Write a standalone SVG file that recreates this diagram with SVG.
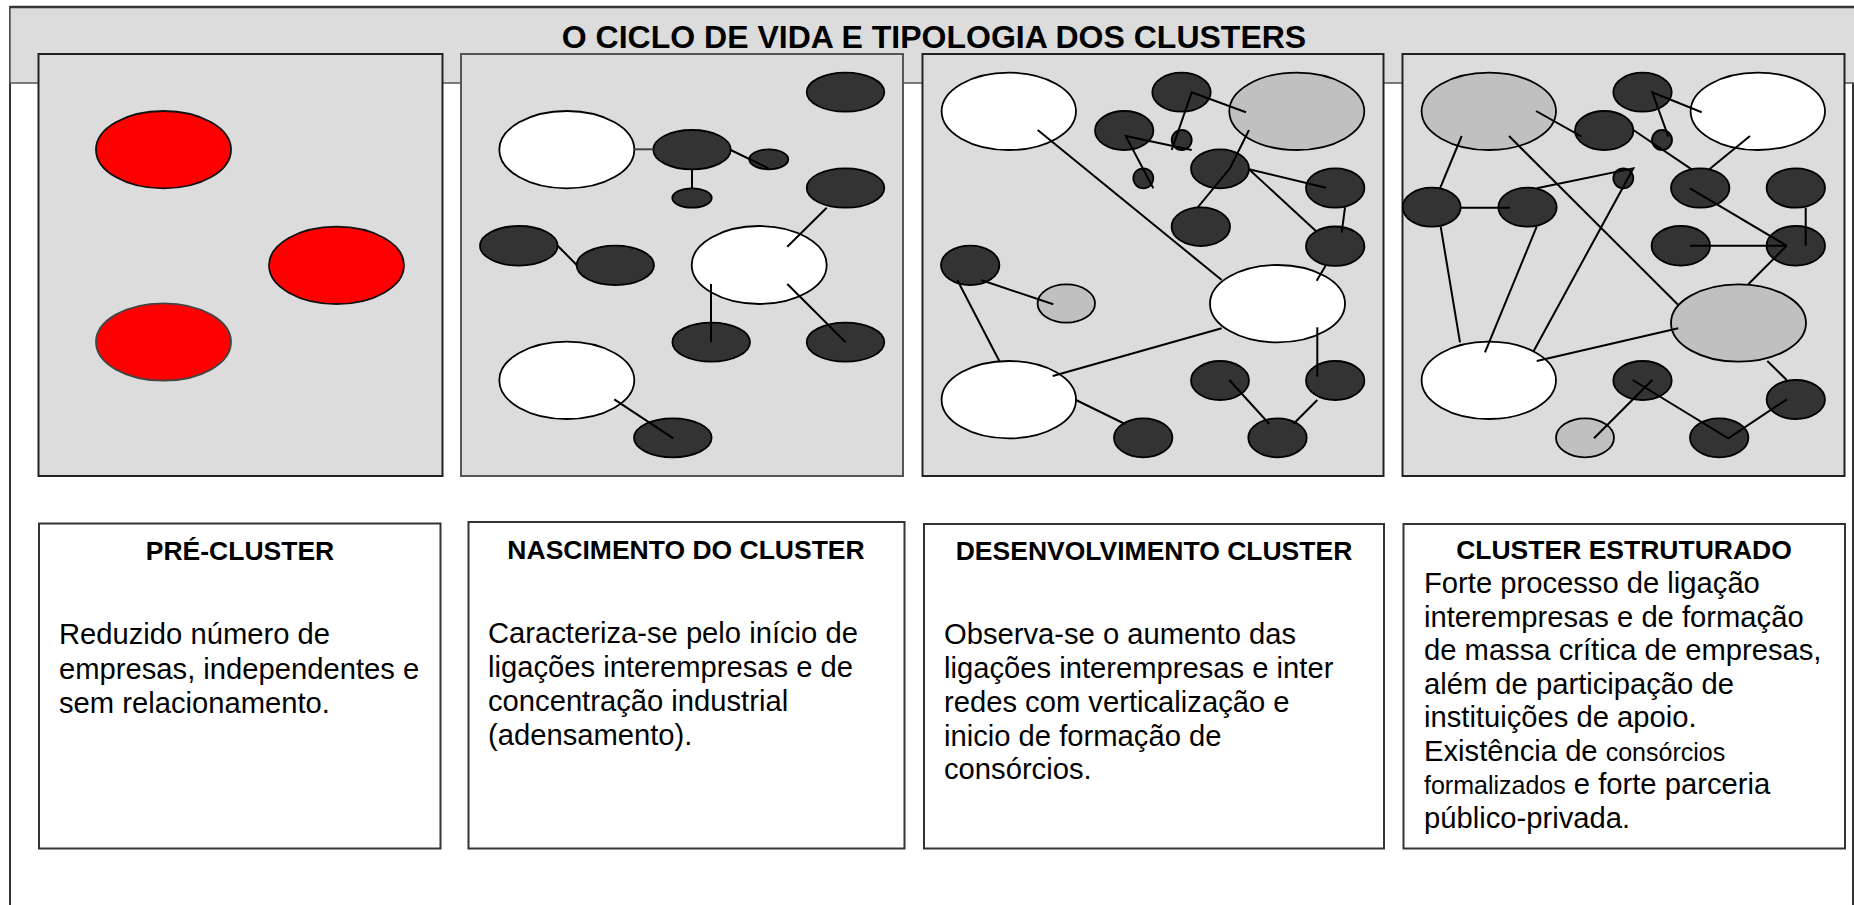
<svg xmlns="http://www.w3.org/2000/svg" width="1854" height="905" viewBox="0 0 1854 905">
<style>
.frame{fill:#ffffff;stroke:#333333;stroke-width:2}
.header{fill:#dcdcdc;stroke:#555555;stroke-width:1.5}
.title{font-family:"Liberation Sans",Arial,sans-serif;font-weight:bold;font-size:32px;fill:#000}
.panel{fill:#dcdcdc;stroke:#222222;stroke-width:2}
.panel2{fill:#dcdcdc;stroke:#555555;stroke-width:2}
.rd{fill:#ff0000;stroke:#111;stroke-width:1.8}
.dk{fill:#333333;stroke:#000;stroke-width:1.8}
.wh{fill:#ffffff;stroke:#000;stroke-width:1.8}
.gr{fill:#c0c0c0;stroke:#000;stroke-width:1.8}
.ln{fill:none;stroke:#000;stroke-width:2}
.box{fill:#ffffff;stroke:#333333;stroke-width:2}
.hd{font-family:"Liberation Sans",Arial,sans-serif;font-weight:bold;font-size:26.5px;fill:#000;text-anchor:middle}
.bd{font-family:"Liberation Sans",Arial,sans-serif;font-size:29.2px;fill:#000}
.sm{font-size:25px}
</style>
<rect class="frame" x="10" y="7" width="1843" height="1000"/>
<rect class="header" x="10" y="7" width="1846" height="76"/>
<line x1="10" y1="7" x2="1854" y2="7" stroke="#333" stroke-width="2.5"/>
<text class="title" x="934" y="48" text-anchor="middle">O CICLO DE VIDA E TIPOLOGIA DOS CLUSTERS</text>

<!-- Panel 1 -->
<g id="panel1">
<rect class="panel" x="38.5" y="54" width="404" height="422"/>
<g id="p1n1"><ellipse class="rd" cx="163.5" cy="149.7" rx="67.5" ry="38.7"/></g>
<g id="p1n2"><ellipse class="rd" cx="336.5" cy="265.3" rx="67.5" ry="38.7"/></g>
<g id="p1n3"><ellipse class="rd" cx="163.5" cy="342" rx="67.5" ry="38.7" style="stroke:#444"/></g>
</g>

<!-- Panel 2 -->
<g id="panel2">
<rect class="panel2" x="461" y="54" width="442" height="422"/>
<g id="p2w1"><ellipse class="wh" cx="566.8" cy="149.7" rx="67.5" ry="38.7"/></g>
<g id="p2d1"><ellipse class="dk" cx="845.5" cy="92.2" rx="38.8" ry="19.5"/></g>
<g id="p2d2"><ellipse class="dk" cx="692" cy="149.7" rx="38.7" ry="19.7"/></g>
<g id="p2s1"><ellipse class="dk" cx="768.8" cy="159.3" rx="19.5" ry="10"/></g>
<g id="p2s2"><ellipse class="dk" cx="692" cy="198" rx="19.7" ry="9.7"/></g>
<g id="p2d3"><ellipse class="dk" cx="845.5" cy="188" rx="38.8" ry="19.7"/></g>
<g id="p2d4"><ellipse class="dk" cx="518.8" cy="245.8" rx="38.8" ry="19.8"/></g>
<g id="p2d5"><ellipse class="dk" cx="615.3" cy="265.3" rx="38.7" ry="19.7"/></g>
<g id="p2w2"><ellipse class="wh" cx="759.2" cy="265" rx="67.5" ry="39"/></g>
<g id="p2d6"><ellipse class="dk" cx="711.2" cy="342.2" rx="38.8" ry="19.5"/></g>
<g id="p2d7"><ellipse class="dk" cx="845.5" cy="342.2" rx="38.8" ry="19.5"/></g>
<g id="p2w3"><ellipse class="wh" cx="566.8" cy="380.3" rx="67.5" ry="38.7"/></g>
<g id="p2d8"><ellipse class="dk" cx="672.8" cy="437.8" rx="38.8" ry="19.5"/></g>
</g>
<g id="connectors-panel2">
<line class="ln" x1="634.3" y1="149.3" x2="653.3" y2="149.3" style="stroke:#444"/>
<line class="ln" x1="730.7" y1="150" x2="768.3" y2="168.3"/>
<line class="ln" x1="692" y1="169.3" x2="692" y2="188.3"/>
<line class="ln" x1="826.7" y1="207.7" x2="787.3" y2="246.7"/>
<line class="ln" x1="557.7" y1="245.7" x2="576.7" y2="265"/>
<line class="ln" x1="711" y1="284" x2="711" y2="342.3"/>
<line class="ln" x1="787.3" y1="284" x2="845.7" y2="342.3"/>
<line class="ln" x1="614.3" y1="399.3" x2="673.3" y2="438.3"/>
</g>

<!-- Panel 3 -->
<g id="panel3">
<rect class="panel" x="922.5" y="54" width="461" height="422"/>
<g id="p3w1"><ellipse class="wh" cx="1008.8" cy="111.3" rx="67.2" ry="38.7"/></g>
<g id="p3d1"><ellipse class="dk" cx="1181.5" cy="92.2" rx="29.2" ry="19.5"/></g>
<g id="p3g1"><ellipse class="gr" cx="1296.8" cy="111.3" rx="67.5" ry="38.7"/></g>
<g id="p3d2"><ellipse class="dk" cx="1124.2" cy="130.5" rx="29.2" ry="19.5"/></g>
<g id="p3s1"><ellipse class="dk" cx="1181.7" cy="140" rx="10" ry="10"/></g>
<g id="p3s2"><ellipse class="dk" cx="1143.3" cy="178.3" rx="10" ry="10"/></g>
<g id="p3d3"><ellipse class="dk" cx="1220" cy="168.8" rx="29" ry="19.5"/></g>
<g id="p3d4"><ellipse class="dk" cx="1335.2" cy="188" rx="29.2" ry="19.7"/></g>
<g id="p3d5"><ellipse class="dk" cx="1200.8" cy="226.7" rx="29.2" ry="19.3"/></g>
<g id="p3d6"><ellipse class="dk" cx="1335.2" cy="246.2" rx="29.2" ry="19.7"/></g>
<g id="p3d7"><ellipse class="dk" cx="970.2" cy="265.3" rx="29.2" ry="19.7"/></g>
<g id="p3g2"><ellipse class="gr" cx="1066.3" cy="303.5" rx="28.7" ry="19.2"/></g>
<g id="p3w2"><ellipse class="wh" cx="1277.5" cy="303.7" rx="67.5" ry="38.7"/></g>
<g id="p3w3"><ellipse class="wh" cx="1008.8" cy="399.7" rx="67.2" ry="38.7"/></g>
<g id="p3d8"><ellipse class="dk" cx="1220" cy="380.5" rx="29" ry="19.5"/></g>
<g id="p3d9"><ellipse class="dk" cx="1335.2" cy="380.5" rx="29.2" ry="19.5"/></g>
<g id="p3d10"><ellipse class="dk" cx="1143.2" cy="437.8" rx="29.2" ry="19.5"/></g>
<g id="p3d11"><ellipse class="dk" cx="1277.5" cy="437.8" rx="29.2" ry="19.5"/></g>
</g>
<g id="connectors-panel3">
<line class="ln" x1="1037.7" y1="130" x2="1221.7" y2="280"/>
<polyline class="ln" points="1171.7,150 1191.7,92.3 1246,112.3"/>
<polyline class="ln" points="1153.3,188.3 1125.7,136 1191.7,150"/>
<polyline class="ln" points="1249,130 1230,168.3 1197.7,207.3"/>
<line class="ln" x1="1249" y1="169.3" x2="1326" y2="187.7"/>
<line class="ln" x1="1249" y1="169.3" x2="1316.7" y2="231.7"/>
<line class="ln" x1="1345" y1="207.3" x2="1341.7" y2="232.7"/>
<line class="ln" x1="1326" y1="265" x2="1316.7" y2="280.7"/>
<line class="ln" x1="981" y1="280" x2="1053.3" y2="304.3"/>
<line class="ln" x1="957.3" y1="280" x2="999.3" y2="361"/>
<line class="ln" x1="1221.7" y1="328.3" x2="1052.7" y2="376"/>
<line class="ln" x1="1076" y1="400" x2="1125" y2="424"/>
<line class="ln" x1="1317.3" y1="327.3" x2="1317.3" y2="376.7"/>
<line class="ln" x1="1229.3" y1="380" x2="1269.3" y2="424"/>
<line class="ln" x1="1317.3" y1="400" x2="1293.3" y2="424"/>
</g>

<!-- Panel 4 -->
<g id="panel4">
<rect class="panel" x="1402.5" y="54" width="442" height="422"/>
<g id="p4g1"><ellipse class="gr" cx="1488.8" cy="111.3" rx="67.2" ry="38.7"/></g>
<g id="p4d1"><ellipse class="dk" cx="1642.5" cy="92.2" rx="29.2" ry="19.5"/></g>
<g id="p4w1"><ellipse class="wh" cx="1757.8" cy="111.3" rx="67.2" ry="38.7"/></g>
<g id="p4d2"><ellipse class="dk" cx="1604.2" cy="130.5" rx="29.2" ry="19.5"/></g>
<g id="p4s1"><ellipse class="dk" cx="1662" cy="140" rx="10" ry="10"/></g>
<g id="p4s2"><ellipse class="dk" cx="1623.3" cy="178.3" rx="10" ry="10"/></g>
<g id="p4d3"><ellipse class="dk" cx="1700.2" cy="188" rx="29.2" ry="19.7"/></g>
<g id="p4d4"><ellipse class="dk" cx="1795.8" cy="188" rx="29.2" ry="19.7"/></g>
<g id="p4d5"><ellipse class="dk" cx="1431.7" cy="207.2" rx="29" ry="19.5"/></g>
<g id="p4d6"><ellipse class="dk" cx="1527.5" cy="207.2" rx="29.2" ry="19.5"/></g>
<g id="p4d7"><ellipse class="dk" cx="1680.8" cy="245.8" rx="29.2" ry="19.8"/></g>
<g id="p4d8"><ellipse class="dk" cx="1795.8" cy="245.8" rx="29.2" ry="19.8"/></g>
<g id="p4g2"><ellipse class="gr" cx="1738.5" cy="323" rx="67.5" ry="38.7"/></g>
<g id="p4w2"><ellipse class="wh" cx="1488.8" cy="380.3" rx="67.2" ry="38.7"/></g>
<g id="p4d9"><ellipse class="dk" cx="1642.5" cy="380.5" rx="29.2" ry="19.5"/></g>
<g id="p4d10"><ellipse class="dk" cx="1795.8" cy="399.5" rx="29.2" ry="19.5"/></g>
<g id="p4g3"><ellipse class="gr" cx="1585" cy="437.8" rx="29" ry="19.5"/></g>
<g id="p4d11"><ellipse class="dk" cx="1719.2" cy="437.8" rx="29.2" ry="19.5"/></g>
</g>
<g id="connectors-panel4">
<line class="ln" x1="1536" y1="111" x2="1581.7" y2="136.7"/>
<line class="ln" x1="1633.3" y1="130" x2="1691.7" y2="169.3"/>
<polyline class="ln" points="1668.3,136.7 1652.3,92.3 1701.7,112.3"/>
<line class="ln" x1="1750" y1="136" x2="1709.3" y2="169.3"/>
<line class="ln" x1="1461.7" y1="136" x2="1440" y2="188.3"/>
<line class="ln" x1="1509" y1="136" x2="1678.3" y2="305"/>
<line class="ln" x1="1460.7" y1="207.7" x2="1510" y2="207.7"/>
<polyline class="ln" points="1536.7,188.3 1633.3,168.3 1533.3,351.7"/>
<line class="ln" x1="1440.7" y1="226.7" x2="1460" y2="342.3"/>
<line class="ln" x1="1536.7" y1="226.7" x2="1485" y2="352.3"/>
<line class="ln" x1="1690" y1="188.3" x2="1786.7" y2="245.7"/>
<line class="ln" x1="1690" y1="245.7" x2="1786.7" y2="245.7"/>
<line class="ln" x1="1805.7" y1="207.7" x2="1805.7" y2="245.7"/>
<line class="ln" x1="1786.7" y1="245.7" x2="1748.3" y2="284.3"/>
<line class="ln" x1="1678.3" y1="328.3" x2="1536.7" y2="361"/>
<line class="ln" x1="1767.3" y1="361" x2="1786.7" y2="380"/>
<polyline class="ln" points="1632.7,380 1728.3,438.3 1786.7,399.3"/>
<line class="ln" x1="1652.3" y1="380" x2="1594" y2="438.3"/>
</g>

<!-- Text boxes -->
<g id="box1">
<rect class="box" x="39" y="523.5" width="401.5" height="325"/>
<text class="hd" x="240" y="560">PRÉ-CLUSTER</text>
<text class="bd" x="59" y="644">Reduzido número de</text>
<text class="bd" x="59" y="678.5">empresas, independentes e</text>
<text class="bd" x="59" y="713">sem relacionamento.</text>
</g>
<g id="box2">
<rect class="box" x="468.5" y="522" width="436" height="326.5"/>
<text class="hd" x="686" y="559">NASCIMENTO DO CLUSTER</text>
<text class="bd" x="488" y="643">Caracteriza-se pelo início de</text>
<text class="bd" x="488" y="677">ligações interempresas e de</text>
<text class="bd" x="488" y="711">concentração industrial</text>
<text class="bd" x="488" y="745">(adensamento).</text>
</g>
<g id="box3">
<rect class="box" x="924" y="524" width="460" height="324.5"/>
<text class="hd" x="1154" y="560">DESENVOLVIMENTO CLUSTER</text>
<text class="bd" x="944" y="644">Observa-se o aumento das</text>
<text class="bd" x="944" y="678">ligações interempresas e inter</text>
<text class="bd" x="944" y="712">redes com verticalização e</text>
<text class="bd" x="944" y="745.5">inicio de formação de</text>
<text class="bd" x="944" y="779">consórcios.</text>
</g>
<g id="box4">
<rect class="box" x="1403.5" y="524" width="441.5" height="324.5"/>
<text class="hd" x="1624" y="559">CLUSTER ESTRUTURADO</text>
<text class="bd" x="1424" y="593">Forte processo de ligação</text>
<text class="bd" x="1424" y="626.5">interempresas e de formação</text>
<text class="bd" x="1424" y="660">de massa crítica de empresas,</text>
<text class="bd" x="1424" y="693.5">além de participação de</text>
<text class="bd" x="1424" y="727">instituições de apoio.</text>
<text class="bd" x="1424" y="760.5">Existência de <tspan class="sm">consórcios</tspan></text>
<text class="bd" x="1424" y="794"><tspan class="sm">formalizados</tspan> e forte parceria</text>
<text class="bd" x="1424" y="827.5">público-privada.</text>
</g>
</svg>
